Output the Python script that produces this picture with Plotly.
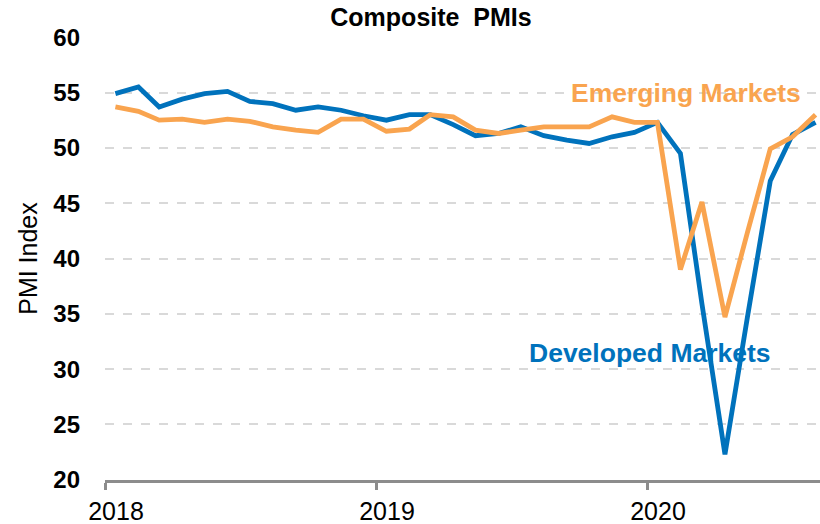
import pandas as pd
import plotly.graph_objects as go

months = pd.date_range("2018-01-01", periods=32, freq="MS")
x_pos = months + pd.Timedelta(days=14)

developed = [54.9, 55.5, 53.7, 54.4, 54.9, 55.1, 54.2, 54.0, 53.4, 53.7, 53.4, 52.9,
             52.5, 53.0, 53.0, 52.1, 51.1, 51.3, 51.9, 51.1, 50.7, 50.4, 51.0, 51.4,
             52.3, 49.5, 35.9, 22.3, 34.6, 47.0, 51.2, 52.3]
emerging = [53.7, 53.3, 52.5, 52.6, 52.3, 52.6, 52.4, 51.9, 51.6, 51.4, 52.6, 52.6,
            51.5, 51.7, 53.0, 52.8, 51.6, 51.3, 51.6, 51.9, 51.9, 51.9, 52.8, 52.3,
            52.3, 39.0, 45.1, 34.7, 42.3, 49.9, 51.0, 53.0]

year_ticks = ["2018-01-01", "2019-01-01", "2020-01-01"]
year_labels = ["2018", "2019", "2020"]
y_ticks = [20, 25, 30, 35, 40, 45, 50, 55, 60]

BLUE = "#0072BC"
ORANGE = "#F9A44F"
FONT = "Liberation Sans, Arial, sans-serif"

fig = go.Figure()
fig.add_trace(go.Scatter(x=x_pos, y=developed, mode="lines", name="Developed Markets",
                         line=dict(color=BLUE, width=4.8), showlegend=False))
fig.add_trace(go.Scatter(x=x_pos, y=emerging, mode="lines", name="Emerging Markets",
                         line=dict(color=ORANGE, width=4.8), showlegend=False))

fig.add_annotation(x=1.0, xref="paper", xanchor="right", xshift=-17, y=55.0, yref="y", yanchor="middle",
                   text="<b>Emerging Markets</b>", showarrow=False,
                   font=dict(family=FONT, size=26.5, color=ORANGE))
fig.add_annotation(x=0.930, xref="paper", xanchor="right", xshift=3, y=31.5, yref="y", yanchor="middle",
                   text="<b>Developed Markets</b>", showarrow=False,
                   font=dict(family=FONT, size=26.5, color=BLUE))

fig.update_layout(
    width=820, height=524,
    margin=dict(l=105, r=0, t=37, b=44),
    paper_bgcolor="white", plot_bgcolor="white",
    font=dict(family=FONT, color="black"),
    title=dict(text="<b>Composite\u00a0 PMIs</b>", x=431 / 820, xanchor="center",
               y=1 - 17 / 524, yanchor="middle", font=dict(family=FONT, size=25, color="black")),
)
fig.update_xaxes(
    type="date", range=["2018-01-01", "2020-08-21"],
    tickvals=year_ticks, ticktext=year_labels,
    showgrid=False, zeroline=False,
    showline=True, linecolor="#8C8C8C", linewidth=3,
    ticks="outside", ticklen=7, tickwidth=3, tickcolor="#8C8C8C",
    ticklabelshift=11,
    tickfont=dict(family=FONT, size=25, color="black"),
)
fig.update_yaxes(
    range=[19.98, 60.02], tickvals=y_ticks,
    showgrid=True, gridcolor="#D9D9D9", griddash="dash", gridwidth=1.5,
    zeroline=False, showline=False, ticks="",
    ticklabelstandoff=24,
    tickfont=dict(family=FONT, size=24, color="black", weight="bold"),
    title=dict(text="PMI Index", font=dict(family=FONT, size=25, color="black"), standoff=8),
)

fig.write_html("out.html", config={"displayModeBar": False},
               post_script="document.body.style.margin='0';document.body.style.overflow='hidden';")
